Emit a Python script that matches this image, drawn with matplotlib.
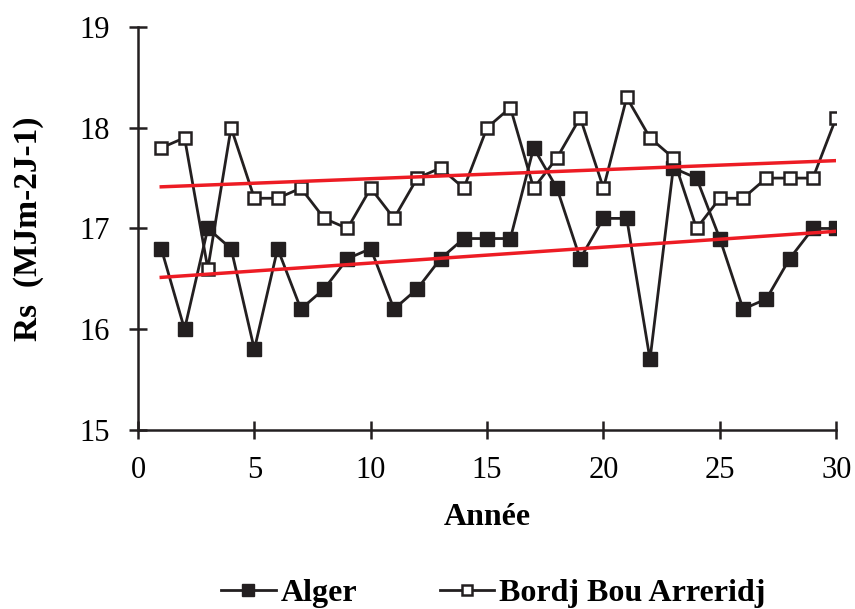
import numpy as np
import matplotlib
matplotlib.use("Agg")
import matplotlib.pyplot as plt

plt.rcParams['font.family'] = ['Liberation Serif', 'DejaVu Serif']

# Annual mean global solar radiation per station
years = list(range(1, 31))
alger = [16.8, 16.0, 17.0, 16.8, 15.8, 16.8, 16.2, 16.4, 16.7, 16.8,
         16.2, 16.4, 16.7, 16.9, 16.9, 16.9, 17.8, 17.4, 16.7, 17.1,
         17.1, 15.7, 17.6, 17.5, 16.9, 16.2, 16.3, 16.7, 17.0, 17.0]
bordj = [17.8, 17.9, 16.6, 18.0, 17.3, 17.3, 17.4, 17.1, 17.0, 17.4,
         17.1, 17.5, 17.6, 17.4, 18.0, 18.2, 17.4, 17.7, 18.1, 17.4,
         18.3, 17.9, 17.7, 17.0, 17.3, 17.3, 17.5, 17.5, 17.5, 18.1]

x = np.array(years)
ink = '#231f20'

fig = plt.figure(figsize=(8.55, 6.09), dpi=100)
ax = fig.add_axes([0.1614, 0.294, 0.8166, 0.6617])

ax.plot(x, alger, color=ink, lw=2, marker='s', ms=10,
        mfc=ink, mec=ink, label='Alger', zorder=3)
ax.plot(x, bordj, color=ink, lw=2, marker='s', ms=9,
        mfc='white', mec=ink, mew=1.8, label='Bordj Bou Arreridj', zorder=3)

# linear trends
for series in (alger, bordj):
    a, b = np.polyfit(x, series, 1)
    ax.plot(x, a * x + b, color='#ed1c24', lw=2.5, zorder=4)

ax.set_xlim(0, 30)
ax.set_ylim(15, 19)
ax.set_xticks(range(0, 31, 5))
ax.set_yticks(range(15, 20))
for s in ('top', 'right'):
    ax.spines[s].set_visible(False)
for s in ('left', 'bottom'):
    ax.spines[s].set_linewidth(1.8)
    ax.spines[s].set_color(ink)
ax.tick_params(axis='both', labelsize=22, width=1.8, length=13,
               color=ink, direction='inout')
ax.tick_params(axis='y', pad=14)
ax.tick_params(axis='x', pad=12)

ax.set_xlabel('Année', fontsize=23, fontweight='bold', labelpad=13)
ax.set_ylabel('Rs  (MJm-2J-1)', fontsize=24, fontweight='bold', labelpad=25)

fig.legend(loc='center', bbox_to_anchor=(0.577, 0.026), ncol=2, frameon=False,
           prop={'weight': 'bold', 'size': 23}, markerscale=0.8,
           handlelength=1.7, handletextpad=0.15, columnspacing=2.6)

fig.savefig('out.png', dpi=100)
